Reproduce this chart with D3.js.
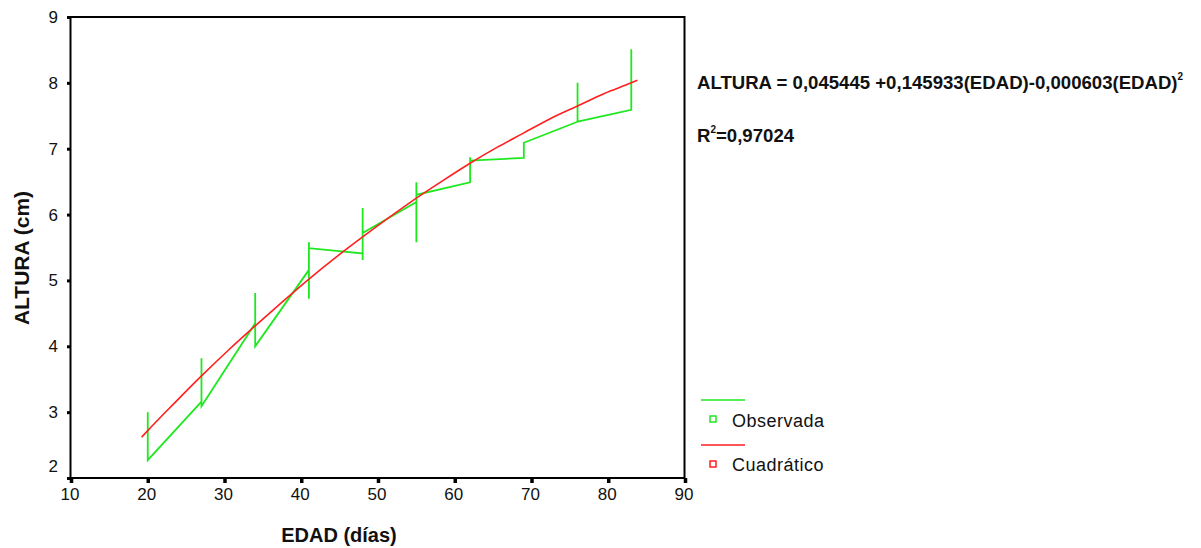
<!DOCTYPE html>
<html>
<head>
<meta charset="utf-8">
<script src="https://cdn.jsdelivr.net/npm/d3@7"></script>
<style>
  body { margin: 0; background: #fff; }
  svg text { font-family: "Liberation Sans", Arial, sans-serif; fill: #111; }
</style>
</head>
<body>
<div id="chart"></div>
<script>
// Observed values, in the order of the data file (the green line follows this order)
const obsEdad = [20, 20, 27, 27, 27, 34, 34, 34, 41, 41, 41, 41, 48, 48, 48, 48,
    55, 55, 55, 55, 62, 62, 62, 69, 69, 76, 76, 76, 83, 83];
const obsAltura = [3.00, 2.27, 3.16, 3.82, 3.09, 4.35, 4.81, 4.00, 5.16, 5.58, 4.72, 5.49, 5.41, 6.10, 5.31, 5.72,
    6.19, 6.49, 5.58, 6.30, 6.49, 6.87, 6.82, 6.86, 7.09, 7.41, 8.00, 7.41, 7.59, 8.51];

// Quadratic fit
const fitEdad = [19.2, 20, 23.5, 27, 30.5, 34, 37.5, 41, 44.5, 48, 51.5, 55, 58.5, 62, 65.5, 69, 72.5, 76, 79.5, 83, 83.8];
const fitAltura = [2.62, 2.72, 3.14, 3.55, 3.94, 4.31, 4.67, 5.02, 5.35, 5.66, 5.96, 6.25, 6.52, 6.78, 7.02, 7.24, 7.46, 7.65, 7.84, 8.00, 8.04];

const xTicks = [10, 20, 30, 40, 50, 60, 70, 80, 90];
const yTicks = [2, 3, 4, 5, 6, 7, 8, 9];
const seriesNames = ['Observada', 'Cuadrático'];

const xTitle = 'EDAD (días)';
const yTitle = 'ALTURA (cm)';
const equationMain = 'ALTURA = 0,045445 +0,145933(EDAD)-0,000603(EDAD)';
const rSquared = '0,97024';

class CurveFitChart {
    constructor(config) {
        this.config = {
            parentElement: config.parentElement,
            containerWidth: 1201,
            containerHeight: 548,
            plot: { left: 71, right: 685, top: 17, bottom: 478 },
            colors: ['#1ee81e', '#ff1f1f']
        };
        this.initVis();
    }

    initVis() {
        let vis = this;
        const p = vis.config.plot;

        vis.svg = d3.select(vis.config.parentElement)
            .append('svg')
            .attr('width', vis.config.containerWidth)
            .attr('height', vis.config.containerHeight);

        vis.xScale = d3.scaleLinear().domain([10, 90]).range([p.left, p.right]);
        vis.yScale = d3.scaleLinear().domain([2, 9]).range([p.bottom, p.top]);

        vis.xAxis = d3.axisBottom(vis.xScale)
            .tickValues(xTicks)
            .tickFormat(d3.format('d'))
            .tickSize(5)
            .tickPadding(5);

        vis.yAxis = d3.axisLeft(vis.yScale)
            .tickValues(yTicks)
            .tickFormat(d3.format('d'))
            .tickSize(4)
            .tickPadding(9);

        vis.chart = vis.svg.append('g');
        vis.legend = vis.svg.append('g');
        vis.renderVis();
    }

    renderVis() {
        let vis = this;
        const p = vis.config.plot;
        const colors = vis.config.colors;

        // x axis
        vis.svg.append('g')
            .attr('transform', `translate(0,${p.bottom})`)
            .call(vis.xAxis)
            .call(g => g.select('.domain').remove())
            .call(g => g.selectAll('.tick line').attr('stroke', '#000').attr('stroke-width', 3.5))
            .call(g => g.selectAll('.tick text')
                .attr('font-size', 17)
                .attr('font-family', null)
                .attr('dx', -1.5));

        // y axis
        vis.svg.append('g')
            .attr('transform', `translate(${p.left},0)`)
            .call(vis.yAxis)
            .call(g => g.select('.domain').remove())
            .call(g => g.selectAll('.tick line').attr('stroke', '#000').attr('stroke-width', 3))
            .call(g => g.selectAll('.tick text')
                .attr('font-size', 17)
                .attr('font-family', null))
            // lowest label is lifted off the corner
            .call(g => g.selectAll('.tick text').filter(d => d === yTicks[0]).attr('dy', '-0.38em'));

        // plot frame
        vis.svg.append('rect')
            .attr('x', vis.xScale(10) - 0.5)
            .attr('y', vis.yScale(9))
            .attr('width', vis.xScale(90) - vis.xScale(10))
            .attr('height', vis.yScale(2) - vis.yScale(9))
            .attr('fill', 'none')
            .attr('stroke', '#000')
            .attr('stroke-width', 2);

        const line = d3.line()
            .x(d => vis.xScale(d[0]))
            .y(d => vis.yScale(d[1]));

        // observed
        vis.chart.append('path')
            .datum(obsEdad.map((e, i) => [e, obsAltura[i]]))
            .attr('d', line)
            .attr('fill', 'none')
            .attr('stroke', colors[0])
            .attr('stroke-width', 1.8);

        // fitted curve
        vis.chart.append('path')
            .datum(fitEdad.map((e, i) => [e, fitAltura[i]]))
            .attr('d', line.curve(d3.curveMonotoneX))
            .attr('fill', 'none')
            .attr('stroke', colors[1])
            .attr('stroke-width', 1.6);

        // axis titles
        vis.svg.append('text')
            .attr('x', (p.left + p.right) / 2 - 39)
            .attr('y', 542)
            .attr('text-anchor', 'middle')
            .attr('font-size', 20)
            .attr('font-weight', 'bold')
            .text(xTitle);

        vis.svg.append('text')
            .attr('transform', 'rotate(-90)')
            .attr('x', -258)
            .attr('y', 29)
            .attr('text-anchor', 'middle')
            .attr('font-size', 21)
            .attr('font-weight', 'bold')
            .text(yTitle);

        // equation and R2
        const eq = vis.svg.append('text')
            .attr('x', 697)
            .attr('y', 89)
            .attr('font-size', 18.6)
            .attr('font-weight', 'bold');
        eq.append('tspan').text(equationMain);
        eq.append('tspan').attr('font-size', 10).attr('dy', -9).text('2');

        const r2 = vis.svg.append('text')
            .attr('x', 697)
            .attr('y', 142)
            .attr('font-size', 18.6)
            .attr('font-weight', 'bold');
        r2.append('tspan').text('R');
        r2.append('tspan').attr('font-size', 10).attr('dy', -9).text('2');
        r2.append('tspan').attr('dy', 9).text('=' + rSquared);

        // legend
        const items = vis.legend.selectAll('.legend-item')
            .data(seriesNames)
            .join('g')
            .attr('class', 'legend-item')
            .attr('transform', (d, i) => `translate(701,${400 + i * 45})`);

        items.append('line')
            .attr('x1', 0).attr('x2', 44)
            .attr('stroke', (d, i) => colors[i])
            .attr('stroke-width', 1.6);

        items.append('rect')
            .attr('x', 9).attr('y', 16)
            .attr('width', 6).attr('height', 6)
            .attr('fill', '#fff')
            .attr('stroke', (d, i) => colors[i])
            .attr('stroke-width', 1.5);

        items.append('text')
            .attr('x', 31)
            .attr('y', (d, i) => 27 - i)
            .attr('font-size', 18)
            .attr('letter-spacing', 0.5)
            .text(d => d);
    }
}

const chart = new CurveFitChart({ parentElement: '#chart' });
</script>
</body>
</html>
